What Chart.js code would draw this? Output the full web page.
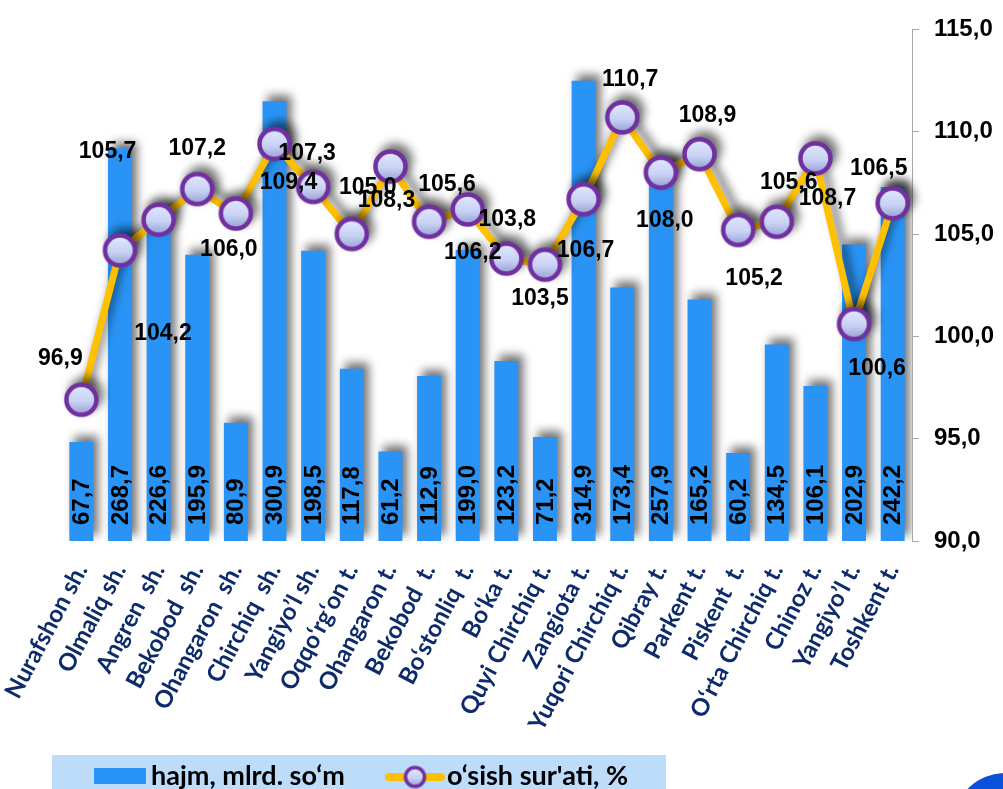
<!DOCTYPE html>
<html>
<head>
<meta charset="utf-8">
<script src="https://cdn.jsdelivr.net/npm/chart.js@4.4.1/dist/chart.umd.min.js"></script>
<style>
  body { margin: 0; background: #fff; }
  #wrap { width: 1003px; height: 789px; overflow: hidden; }
</style>
</head>
<body>
<div id="wrap"><canvas id="chart" width="1003" height="789"></canvas></div>
<script>
var districts = ["Nurafshon sh.", "Olmaliq sh.", "Angren  sh.", "Bekobod  sh.", "Ohangaron  sh.",
    "Chirchiq  sh.", "Yangiyo’l sh.", "Oqqo‘rg‘on t.", "Ohangaron t.", "Bekobod  t.",
    "Bo‘stonliq  t.", "Bo‘ka t.", "Quyi Chirchiq t.", "Zangiota t.", "Yuqori Chirchiq t.",
    "Qibray t.", "Parkent t.", "Piskent  t.", "O‘rta Chirchiq t.", "Chinoz t.",
    "Yangiyo’l t.", "Toshkent t."];
var hajm = [67.7, 268.7, 226.6, 195.9, 80.9, 300.9, 198.5, 117.8, 61.2, 112.9, 199.0,
    123.2, 71.2, 314.9, 173.4, 257.9, 165.2, 60.2, 134.5, 106.1, 202.9, 242.2];
var osish = [96.9, 104.2, 105.7, 107.2, 106.0, 109.4, 107.3, 105.0, 108.3, 105.6, 106.2,
    103.8, 103.5, 106.7, 110.7, 108.0, 108.9, 105.2, 105.6, 108.7, 100.6, 106.5];
var rateTicks = [90, 95, 100, 105, 110, 115];

// where each % label sits relative to its marker, as in the original (px)
var labelDx = [-21, 43, -51, 0, -7, 14, -6, 16, -4, 18, 5, 1, -5, 2, 8, 4, 8, 16, 12, 12, 23, -14];
var labelDy = [-41, 83, -68, -40, 36, 39, -33, -46, 34, -37, 43, -39, 34, 51, -38, 48, -39, 49, -39, 40, 45, -35];

function fmt(v) {
    return Number(v).toFixed(1).replace(".", ",");
}

function makeMarker(r, lw) {
    var c = document.createElement("canvas");
    var s = Math.ceil(2 * r + lw + 2);
    c.width = s;
    c.height = s;
    var g = c.getContext("2d");
    var grad = g.createLinearGradient(0, s / 2 - r, 0, s / 2 + r);
    grad.addColorStop(0, "#e2e8ff");
    grad.addColorStop(0.55, "#c9d2f5");
    grad.addColorStop(1, "#969fd3");
    g.beginPath();
    g.arc(s / 2, s / 2, r, 0, Math.PI * 2);
    g.fillStyle = grad;
    g.fill();
    g.lineWidth = lw;
    g.strokeStyle = "#7030a0";
    g.stroke();
    return c;
}
var bigMarker = makeMarker(15, 4.5);
var smallMarker = makeMarker(9.5, 3.5);

var shadows = {
    id: "shadows",
    beforeDatasetDraw: function (chart) {
        var ctx = chart.ctx;
        ctx.save();
        ctx.shadowColor = "rgba(0,0,0,0.55)";
        ctx.shadowBlur = 10;
        ctx.shadowOffsetX = 5;
        ctx.shadowOffsetY = -6;
    },
    afterDatasetDraw: function (chart) {
        chart.ctx.restore();
    }
};

var valueLabels = {
    id: "valueLabels",
    afterDatasetsDraw: function (chart) {
        var ctx = chart.ctx;
        // bar values, vertical, at the bottom of every bar
        var bars = chart.getDatasetMeta(0).data;
        ctx.save();
        ctx.fillStyle = "#000";
        ctx.font = "bold 24px 'Liberation Sans'";
        ctx.textAlign = "left";
        ctx.textBaseline = "middle";
        bars.forEach(function (b, i) {
            ctx.save();
            ctx.translate(b.x, b.base - 16);
            ctx.rotate(-Math.PI / 2);
            ctx.fillText(fmt(hajm[i]), 0, 1);
            ctx.restore();
        });
        // growth rate values
        var pts = chart.getDatasetMeta(1).data;
        ctx.font = "bold 23px 'Liberation Sans'";
        ctx.textAlign = "center";
        pts.forEach(function (p, i) {
            ctx.fillText(fmt(osish[i]), p.x + labelDx[i], p.y + labelDy[i]);
        });
        ctx.restore();
    },
    afterDraw: function (chart) {
        var ctx = chart.ctx;
        var ds = chart.data.datasets;
        ctx.save();
        // legend strip
        ctx.fillStyle = "#bcdcfa";
        ctx.fillRect(52, 755, 614, 40);
        ctx.fillStyle = ds[0].backgroundColor;
        ctx.fillRect(94, 768, 52, 16);
        ctx.fillStyle = "#000";
        ctx.font = "bold 27px Lato";
        ctx.textBaseline = "middle";
        ctx.fillText(ds[0].label, 151, 776);
        ctx.strokeStyle = ds[1].borderColor;
        ctx.lineWidth = 8;
        ctx.lineCap = "round";
        ctx.beginPath();
        ctx.moveTo(389, 777);
        ctx.lineTo(441, 777);
        ctx.stroke();
        ctx.drawImage(smallMarker, 415 - smallMarker.width / 2, 777 - smallMarker.height / 2);
        ctx.fillText(ds[1].label, 447, 776);
        // corner decoration
        ctx.fillStyle = "#0b50d8";
        ctx.beginPath();
        ctx.arc(1005, 825, 52, 0, Math.PI * 2);
        ctx.fill();
        ctx.restore();
    }
};

new Chart(document.getElementById("chart"), {
    data: {
        labels: districts,
        datasets: [{
            type: "bar",
            label: "hajm, mlrd. so‘m",
            data: hajm,
            yAxisID: "yBar",
            backgroundColor: "#2994f5",
            barPercentage: 0.62,
            categoryPercentage: 1,
            order: 1
        }, {
            type: "line",
            label: "o‘sish sur'ati, %",
            data: osish,
            yAxisID: "y",
            borderColor: "#ffc000",
            borderWidth: 7,
            tension: 0,
            pointStyle: bigMarker,
            pointRadius: 16,
            order: 0
        }]
    },
    options: {
        responsive: false,
        animation: false,
        layout: { padding: { left: 62, top: 27, right: 0, bottom: 0 } },
        plugins: {
            legend: { display: false },
            tooltip: { enabled: false }
        },
        scales: {
            x: {
                offset: true,
                grid: { display: false, drawTicks: false },
                border: { display: false },
                ticks: {
                    autoSkip: false,
                    minRotation: 62,
                    maxRotation: 62,
                    padding: 18,
                    color: "#0d2b6b",
                    font: { family: "Lato", weight: "bold", size: 24 }
                },
                afterFit: function (s) {
                    s.height = 248;
                    s.paddingLeft = 0;
                    s.paddingRight = 0;
                }
            },
            yBar: {
                display: false,
                position: "left",
                min: 0,
                max: 350
            },
            y: {
                position: "right",
                min: 90,
                max: 115,
                afterBuildTicks: function (s) {
                    s.ticks = rateTicks.map(function (v) { return { value: v }; });
                },
                ticks: {
                    padding: 15,
                    color: "#000",
                    font: { family: "Liberation Sans", weight: "bold", size: 24 },
                    callback: function (v) { return fmt(v); }
                },
                grid: { drawOnChartArea: false, color: "#a6a6a6", tickLength: 7 },
                border: { color: "#a6a6a6" },
                afterFit: function (s) { s.width = 91; }
            }
        }
    },
    plugins: [shadows, valueLabels]
});
</script>
</body>
</html>
